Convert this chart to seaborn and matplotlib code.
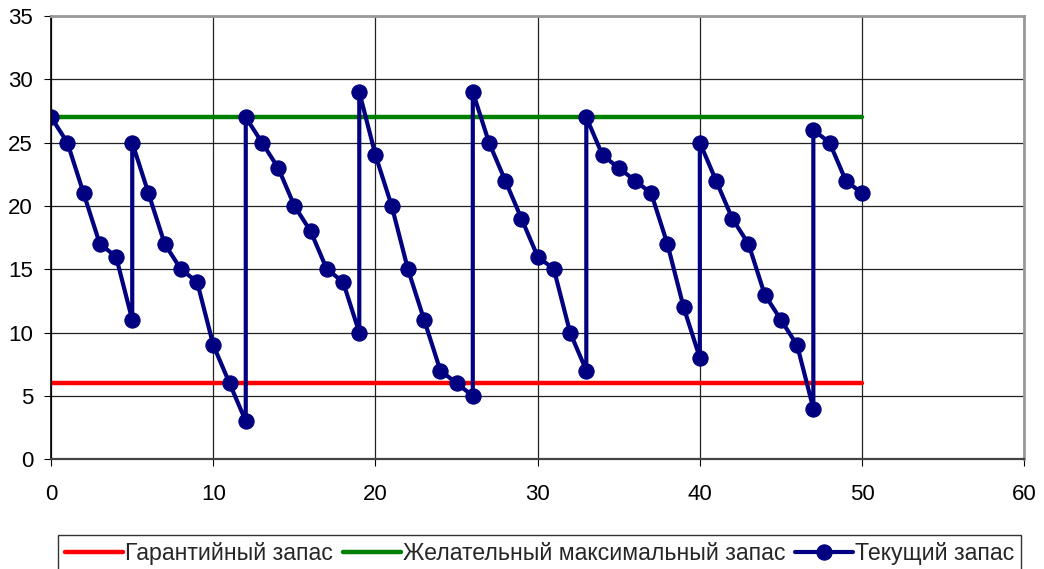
import pandas as pd
import matplotlib.pyplot as plt
import seaborn as sns

# Данные: текущий запас (скачки = две точки с одинаковым x)
day = [0, 1, 2, 3, 4, 5, 5, 6, 7, 8, 9, 10, 11, 12, 12, 13, 14, 15, 16, 17, 18, 19, 19,
       20, 21, 22, 23, 24, 25, 26, 26, 27, 28, 29, 30, 31, 32, 33, 33, 34, 35, 36, 37,
       38, 39, 40, 40, 41, 42, 43, 44, 45, 46, 47, 47, 48, 49, 50]
stock = [27, 25, 21, 17, 16, 11, 25, 21, 17, 15, 14, 9, 6, 3, 27, 25, 23, 20, 18, 15, 14, 10, 29,
         24, 20, 15, 11, 7, 6, 5, 29, 25, 22, 19, 16, 15, 10, 7, 27, 24, 23, 22, 21,
         17, 12, 8, 25, 22, 19, 17, 13, 11, 9, 4, 26, 25, 22, 21]
line_x = [0, 50]
safety = [6, 6]
desired_max = [27, 27]

sns.set_style('white')
plt.rcParams['font.family'] = ['Liberation Sans', 'DejaVu Sans']

df = pd.DataFrame({'x': day, 'y': stock})

fig, ax = plt.subplots(figsize=(10.44, 5.69), dpi=100)
fig.subplots_adjust(left=0.049, right=0.981, top=0.972, bottom=0.193)

sns.lineplot(x=line_x, y=safety, ax=ax, color='#ff0000', linewidth=3.2,
             label='Гарантийный запас')
sns.lineplot(x=line_x, y=desired_max, ax=ax, color='#008000', linewidth=3.2,
             label='Желательный максимальный запас')
sns.lineplot(data=df, x='x', y='y', ax=ax, sort=False, estimator=None,
             color='#000080', linewidth=3, marker='o', markersize=11,
             markeredgecolor='#000080', label='Текущий запас')

ax.set_xlim(0, 60)
ax.set_ylim(0, 35)
ax.set_xticks(range(0, 61, 10))
ax.set_yticks(range(0, 36, 5))
ax.grid(True, color='#222222', linewidth=0.9)
ax.set_xlabel('')
ax.set_ylabel('')
ax.tick_params(labelsize=16, length=5, direction='out', colors='black', bottom=True, left=True)
ax.tick_params(axis='x', pad=13)
ax.tick_params(axis='y', pad=8)
for side in ['top', 'right']:
    ax.spines[side].set_color('#999999')
    ax.spines[side].set_linewidth(2)
ax.spines['left'].set_color('black')
ax.spines['left'].set_linewidth(1.2)
ax.spines['bottom'].set_color('#444444')
ax.spines['bottom'].set_linewidth(1.6)

leg = ax.legend(loc='upper left', bbox_to_anchor=(0.0072, -0.1716), ncol=3, fontsize=16.7,
                frameon=True, fancybox=False, edgecolor='black', handlelength=2.5,
                handletextpad=0.1, columnspacing=0.4, borderpad=0.3, borderaxespad=0)
leg.get_frame().set_linewidth(1)

plt.savefig('out.png', dpi=100)
